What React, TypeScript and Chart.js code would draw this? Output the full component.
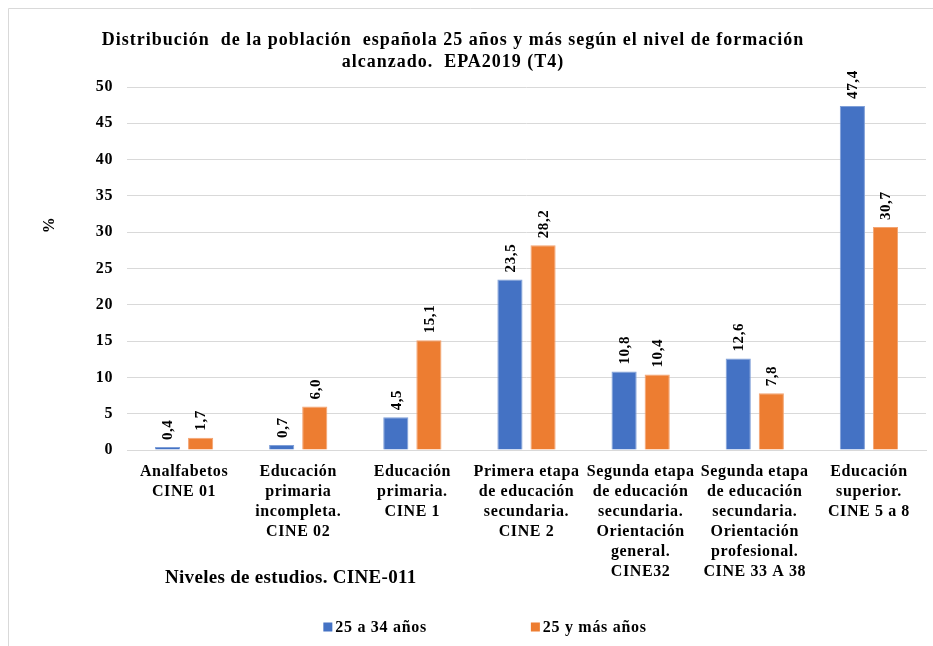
import { useEffect, useRef } from 'react';
import { Chart, registerables } from 'chart.js';

Chart.register(...registerables);

const categories: string[][] = [
  ['Analfabetos', 'CINE 01'],
  ['Educación', 'primaria', 'incompleta.', 'CINE 02'],
  ['Educación', 'primaria.', 'CINE 1'],
  ['Primera etapa', 'de educación', 'secundaria.', 'CINE 2'],
  ['Segunda etapa', 'de educación', 'secundaria.', 'Orientación', 'general.', 'CINE32'],
  ['Segunda etapa', 'de educación', 'secundaria.', 'Orientación', 'profesional.', 'CINE 33 A 38'],
  ['Educación', 'superior.', 'CINE 5 a 8'],
];
const seriesNames = ['25 a 34 años', '25 y más años'];
const values25to34 = [0.4, 0.7, 4.5, 23.5, 10.8, 12.6, 47.4];
const values25plus = [1.7, 6.0, 15.1, 28.2, 10.4, 7.8, 30.7];
const seriesColors = ['#4472C4', '#ED7D31'];
const titleLines = [
  'Distribución  de la población  española 25 años y más según el nivel de formación',
  'alcanzado.  EPA2019 (T4)',
];
const xAxisTitle = 'Niveles de estudios. CINE-011';
const yAxisTitle = '%';
const yMin = 0;
const yMax = 50;
const yStep = 5;

const FONT = '"Liberation Serif", "Times New Roman", serif';

const decorPlugin = {
  id: 'decor',
  beforeDraw(chart: any) {
    const ctx = chart.ctx;
    ctx.save();
    ctx.fillStyle = '#ffffff';
    ctx.fillRect(0, 0, chart.width, chart.height);
    ctx.strokeStyle = '#d9d9d9';
    ctx.lineWidth = 1;
    ctx.beginPath();
    ctx.moveTo(8.5, chart.height);
    ctx.lineTo(8.5, 8.5);
    ctx.lineTo(chart.width, 8.5);
    ctx.stroke();
    ctx.restore();
    ctx.letterSpacing = '0.6px';
  },
  afterDraw(chart: any) {
    const ctx = chart.ctx;
    ctx.save();
    ctx.fillStyle = '#000000';
    // title
    ctx.letterSpacing = '1px';
    ctx.font = `bold 18px ${FONT}`;
    ctx.textAlign = 'center';
    ctx.textBaseline = 'middle';
    titleLines.forEach((t, i) => ctx.fillText(t, 453, 40 + i * 22));
    ctx.letterSpacing = '0.6px';
    // y axis title
    ctx.save();
    ctx.translate(50, 225);
    ctx.rotate(-Math.PI / 2);
    ctx.font = `bold 16px ${FONT}`;
    ctx.fillText(yAxisTitle, 0, 0);
    ctx.restore();
    // x axis title
    ctx.letterSpacing = '0.3px';
    ctx.font = `bold 19px ${FONT}`;
    ctx.textAlign = 'left';
    ctx.fillText(xAxisTitle, 165, 578);
    // legend
    ctx.font = `bold 16px ${FONT}`;
    ctx.letterSpacing = '0.7px';
    const box = 9;
    const gapBox = 3;
    const gapItem = 104;
    const widths = seriesNames.map((n) => box + gapBox + ctx.measureText(n).width);
    const total = widths.reduce((a, b) => a + b, 0) + gapItem * (widths.length - 1);
    let x = 485 - total / 2;
    const ly = 627;
    seriesNames.forEach((n, i) => {
      ctx.fillStyle = seriesColors[i];
      ctx.fillRect(x, ly - box / 2, box, box);
      ctx.fillStyle = '#000000';
      ctx.textAlign = 'left';
      ctx.fillText(n, x + box + gapBox, ly + 1);
      x += widths[i] + gapItem;
    });
    ctx.restore();
    ctx.letterSpacing = '0px';
  },
  afterDatasetsDraw(chart: any) {
    const ctx = chart.ctx;
    ctx.save();
    ctx.fillStyle = '#000000';
    ctx.font = `bold 15px ${FONT}`;
    chart.data.datasets.forEach((ds: any, di: number) => {
      const meta = chart.getDatasetMeta(di);
      meta.data.forEach((bar: any, i: number) => {
        const v = ds.data[i] as number;
        const label = v.toFixed(1).replace('.', ',');
        ctx.save();
        ctx.translate(bar.x, bar.y - 7);
        ctx.rotate(-Math.PI / 2);
        ctx.textAlign = 'left';
        ctx.textBaseline = 'middle';
        ctx.fillText(label, 0, 1);
        ctx.restore();
      });
    });
    ctx.restore();
  },
};

export default function App() {
  const ref = useRef<HTMLCanvasElement | null>(null);
  useEffect(() => {
    if (!ref.current) return;
    const chart = new Chart(ref.current, {
      type: 'bar',
      data: {
        labels: categories,
        datasets: [
          {
            label: seriesNames[0],
            data: values25to34,
            backgroundColor: seriesColors[0],
            borderColor: '#7f9fd8',
            borderWidth: 1,
            categoryPercentage: 0.58,
            barPercentage: 0.76,
          },
          {
            label: seriesNames[1],
            data: values25plus,
            backgroundColor: seriesColors[1],
            borderColor: '#f3a472',
            borderWidth: 1,
            categoryPercentage: 0.58,
            barPercentage: 0.76,
          },
        ],
      },
      options: {
        animation: false,
        responsive: false,
        maintainAspectRatio: false,
        layout: { padding: { left: 0, top: 87, right: 7, bottom: 66 } },
        plugins: {
          legend: { display: false },
          title: { display: false },
          tooltip: { enabled: false },
        },
        scales: {
          x: {
            afterFit: (s: any) => {
              s.height = 130;
            },
            grid: { display: false, drawTicks: false },
            border: { display: true, color: '#d9d9d9', width: 1 },
            ticks: {
              color: '#000000',
              padding: 12,
              maxRotation: 0,
              autoSkip: false,
              font: { family: FONT, size: 16, weight: 'bold', lineHeight: 1.25 },
            },
          },
          y: {
            min: yMin,
            max: yMax,
            afterFit: (s: any) => {
              s.width = 127;
            },
            grid: { color: '#d9d9d9', drawTicks: false },
            border: { display: false },
            ticks: {
              stepSize: yStep,
              color: '#000000',
              padding: 14,
              font: { family: FONT, size: 16, weight: 'bold' },
            },
          },
        },
      },
      plugins: [decorPlugin],
    } as any);
    return () => chart.destroy();
  }, []);
  return (
    <div style={{ position: 'absolute', left: 0, top: 0, width: 933, height: 646 }}>
      <canvas ref={ref} width={933} height={646} style={{ width: 933, height: 646, display: 'block' }} />
    </div>
  );
}
